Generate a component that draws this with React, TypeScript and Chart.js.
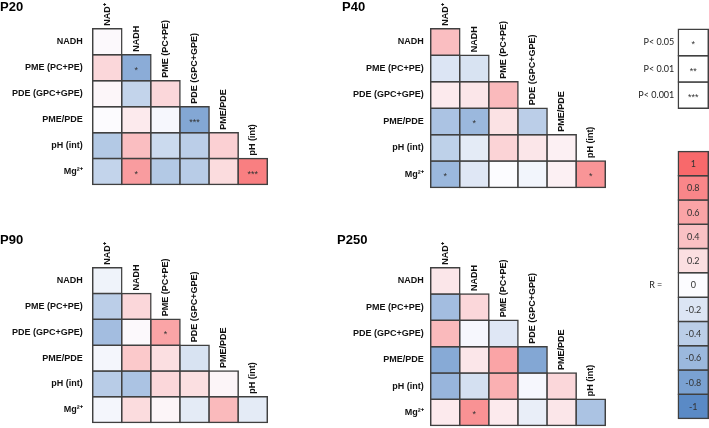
import React, { useEffect, useRef } from 'react';
import { Chart, registerables } from 'chart.js';
Chart.register(...registerables);

const rowLabels = ['NADH', 'PME (PC+PE)', 'PDE (GPC+GPE)', 'PME/PDE', 'pH (int)', 'Mg²⁺'];
const colLabels = ['NAD⁺', 'NADH', 'PME (PC+PE)', 'PDE (GPC+GPE)', 'PME/PDE', 'pH (int)'];

const p20R = [
  [0.02],
  [0.25, -0.7],
  [0.04, -0.35, 0.25],
  [0.01, 0.12, -0.04, -0.75],
  [-0.45, 0.42, -0.3, -0.4, 0.3],
  [-0.35, 0.65, -0.45, -0.42, 0.22, 0.85],
];
const p20Sig = [
  [''],
  ['', '*'],
  ['', '', ''],
  ['', '', '', '***'],
  ['', '', '', '', ''],
  ['', '*', '', '', '', '***'],
];

const p40R = [
  [0.42],
  [-0.2, -0.22],
  [0.12, 0.15, 0.45],
  [-0.5, -0.6, 0.18, -0.4],
  [-0.38, -0.15, 0.28, 0.15, 0.08],
  [-0.6, -0.18, 0.0, -0.06, 0.08, 0.7],
];
const p40Sig = [
  [''],
  ['', ''],
  ['', '', ''],
  ['', '*', '', ''],
  ['', '', '', '', ''],
  ['*', '', '', '', '', '*'],
];

const p90R = [
  [-0.08],
  [-0.4, 0.25],
  [-0.55, 0.02, 0.6],
  [-0.05, 0.35, 0.2, -0.22],
  [-0.42, -0.5, 0.25, 0.2, 0.05],
  [-0.05, 0.22, 0.05, -0.15, 0.45, -0.15],
];
const p90Sig = [
  [''],
  ['', ''],
  ['', '', '*'],
  ['', '', '', ''],
  ['', '', '', '', ''],
  ['', '', '', '', '', ''],
];

const p250R = [
  [0.15],
  [-0.55, 0.25],
  [0.45, -0.04, -0.18],
  [-0.72, 0.15, 0.6, -0.75],
  [-0.62, -0.25, 0.52, -0.04, 0.25],
  [0.12, 0.72, 0.12, -0.12, 0.15, -0.5],
];
const p250Sig = [
  [''],
  ['', ''],
  ['', '', ''],
  ['', '', '', ''],
  ['', '', '', '', ''],
  ['', '*', '', '', '', ''],
];

const pLabels = ['P< 0.05', 'P< 0.01', 'P< 0.001'];
const pStars = ['*', '**', '***'];
const scaleValues = [1, 0.8, 0.6, 0.4, 0.2, 0, -0.2, -0.4, -0.6, -0.8, -1];
const scaleLabels = ['1', '0.8', '0.6', '0.4', '0.2', '0', '-0.2', '-0.4', '-0.6', '-0.8', '-1'];

const FONT = '"Liberation Sans", Arial, sans-serif';
const LEG_FONT = 'Lato, "Open Sans", sans-serif';
const RED = [248, 105, 107];
const WHITE = [252, 252, 255];
const BLUE = [90, 138, 198];
const BORDER = '#404040';
const BW = 1.5;

function rColor(v: number) {
  const t = Math.min(1, Math.abs(v));
  const end = v >= 0 ? RED : BLUE;
  const c = WHITE.map((w, k) => Math.round(w + (end[k] - w) * t));
  return `rgb(${c.join(',')})`;
}

const barStyle = {
  borderColor: BORDER,
  borderWidth: BW,
  borderSkipped: false,
  inflateAmount: BW / 2,
  barPercentage: 1,
  categoryPercentage: 1,
  grouped: false,
  clip: false,
};

function cellPlugin(texts: string[][], font: string, colNames?: string[]) {
  return {
    id: 'cellText',
    afterDatasetsDraw(chart: any) {
      const ctx = chart.ctx;
      ctx.save();
      ctx.textAlign = 'center';
      ctx.textBaseline = 'middle';
      chart.data.datasets.forEach((ds: any, i: number) => {
        const meta = chart.getDatasetMeta(i);
        meta.data.forEach((el: any, j: number) => {
          const s = texts[i] && texts[i][j];
          if (!s || ds.data[j] == null) return;
          const isStar = s.indexOf('*') >= 0;
          ctx.fillStyle = '#333';
          ctx.font = isStar ? `9px ${FONT}` : font;
          ctx.fillText(s, el.x, (el.y + el.base) / 2 + (isStar ? 2.5 : 0.5));
        });
      });
      if (colNames) {
        ctx.fillStyle = '#111';
        ctx.font = `bold 9px ${FONT}`;
        ctx.textAlign = 'left';
        ctx.textBaseline = 'middle';
        colNames.forEach((name, j) => {
          const el = chart.getDatasetMeta(j).data[j];
          if (!el) return;
          const top = Math.min(el.y, el.base);
          ctx.save();
          ctx.translate(el.x, top - 3);
          ctx.rotate(-Math.PI / 2);
          ctx.fillText(name, 0, 0);
          ctx.restore();
        });
      }
      ctx.restore();
    },
  };
}

type Geom = { axisW: number; padRight: number; padBottom: number; titleGap: number; tickPad: number };

function panelConfig(title: string, values: number[][], sig: string[][], g: Geom) {
  const n = rowLabels.length;
  const datasets = values.map((row, i) => ({
    data: colLabels.map((_, j) => (j <= i ? [n - 1 - i, n - i] : null)),
    backgroundColor: colLabels.map((_, j) => (j <= i ? rColor(row[j]) : 'rgba(0,0,0,0)')),
    ...barStyle,
  }));
  return {
    type: 'bar',
    data: { labels: colLabels, datasets },
    options: {
      animation: false,
      responsive: false,
      devicePixelRatio: 1,
      layout: { padding: { left: 0, right: g.padRight, top: 0, bottom: g.padBottom } },
      plugins: {
        legend: { display: false },
        tooltip: { enabled: false },
        title: {
          display: true,
          text: title,
          align: 'start',
          color: '#000',
          font: { family: FONT, size: 13, weight: 'bold' },
          padding: { top: 0, bottom: g.titleGap },
        },
      },
      scales: {
        x: { display: false, offset: true },
        y: {
          min: 0,
          max: n,
          grid: { display: false, drawTicks: false },
          border: { display: false },
          afterBuildTicks: (axis: any) => {
            axis.ticks = rowLabels.map((_, i) => ({ value: n - 0.5 - i }));
          },
          afterFit: (axis: any) => {
            axis.width = g.axisW;
          },
          ticks: {
            autoSkip: false,
            padding: g.tickPad,
            color: '#111',
            font: { family: FONT, size: 9, weight: 'bold' },
            callback: (v: number) => rowLabels[Math.round(n - 0.5 - v)],
          },
        },
      },
    },
    plugins: [cellPlugin(sig, `9px ${FONT}`, colLabels)],
  };
}

function legendConfig(
  vals: number[],
  texts: string[],
  axisLabels: { value: number; text: string }[],
  g: { axisW: number; padRight: number; padTop: number; padBottom: number; tickPad: number },
  white: boolean
) {
  const n = vals.length;
  const datasets = vals.map((v, k) => ({
    data: [[n - 1 - k, n - k]],
    backgroundColor: white ? '#ffffff' : rColor(v),
    ...barStyle,
  }));
  return {
    type: 'bar',
    data: { labels: ['c'], datasets },
    options: {
      animation: false,
      responsive: false,
      devicePixelRatio: 1,
      layout: { padding: { left: 0, right: g.padRight, top: g.padTop, bottom: g.padBottom } },
      plugins: { legend: { display: false }, tooltip: { enabled: false }, title: { display: false } },
      scales: {
        x: { display: false, offset: true },
        y: {
          min: 0,
          max: n,
          grid: { display: false, drawTicks: false },
          border: { display: false },
          afterBuildTicks: (axis: any) => {
            axis.ticks = axisLabels.map((a) => ({ value: a.value }));
          },
          afterFit: (axis: any) => {
            axis.width = g.axisW;
          },
          ticks: {
            autoSkip: false,
            padding: g.tickPad,
            color: '#222',
            font: { family: LEG_FONT, size: 9 },
            callback: (v: number) => {
              const f = axisLabels.find((a) => Math.abs(a.value - v) < 1e-6);
              return f ? f.text : '';
            },
          },
        },
      },
    },
    plugins: [cellPlugin(texts.map((t) => [t]), `9px ${LEG_FONT}`)],
  };
}

function ChartCanvas({ config, left, top, width, height }: any) {
  const ref = useRef<HTMLCanvasElement | null>(null);
  useEffect(() => {
    const chart = new Chart(ref.current as HTMLCanvasElement, config);
    return () => chart.destroy();
  }, []);
  return (
    <canvas
      ref={ref}
      width={width}
      height={height}
      style={{ position: 'absolute', left, top, width, height }}
    />
  );
}

export default function App() {
  const pAxis = pLabels.map((t, k) => ({ value: pLabels.length - 0.5 - k, text: t }));
  const rAxis = [{ value: scaleValues.length - 0.5 - 5, text: 'R =' }];
  return (
    <div
      style={{
        position: 'fixed',
        left: 0,
        top: 0,
        width: 709,
        height: 428,
        overflow: 'hidden',
        background: '#fff',
      }}
    >
      <ChartCanvas
        left={0}
        top={0}
        width={280}
        height={200}
        config={panelConfig('P20', p20R, p20Sig, { axisW: 92.7, padRight: 12.7, padBottom: 11.3, titleGap: 13.1, tickPad: 10 })}
      />
      <ChartCanvas
        left={342}
        top={0}
        width={270}
        height={200}
        config={panelConfig('P40', p40R, p40Sig, { axisW: 88.7, padRight: 6.7, padBottom: 11.3, titleGap: 13.1, tickPad: 7 })}
      />
      <ChartCanvas
        left={0}
        top={233}
        width={280}
        height={205}
        config={panelConfig('P90', p90R, p90Sig, { axisW: 92.7, padRight: 12.7, padBottom: 10.3, titleGap: 19.1, tickPad: 10 })}
      />
      <ChartCanvas
        left={337}
        top={233}
        width={275}
        height={205}
        config={panelConfig('P250', p250R, p250Sig, { axisW: 93.7, padRight: 6.7, padBottom: 10.3, titleGap: 19.1, tickPad: 7 })}
      />
      <ChartCanvas
        left={612}
        top={10}
        width={97}
        height={110}
        config={legendConfig([0, 0, 0], pStars, pAxis, { axisW: 66.3, padRight: 0.7, padTop: 19.3, padBottom: 11.7, tickPad: 4 }, true)}
      />
      <ChartCanvas
        left={612}
        top={130}
        width={97}
        height={310}
        config={legendConfig(scaleValues, scaleLabels, rAxis, { axisW: 66.3, padRight: 0.7, padTop: 13.3, padBottom: 14, tickPad: 16 }, false)}
      />
    </div>
  );
}
